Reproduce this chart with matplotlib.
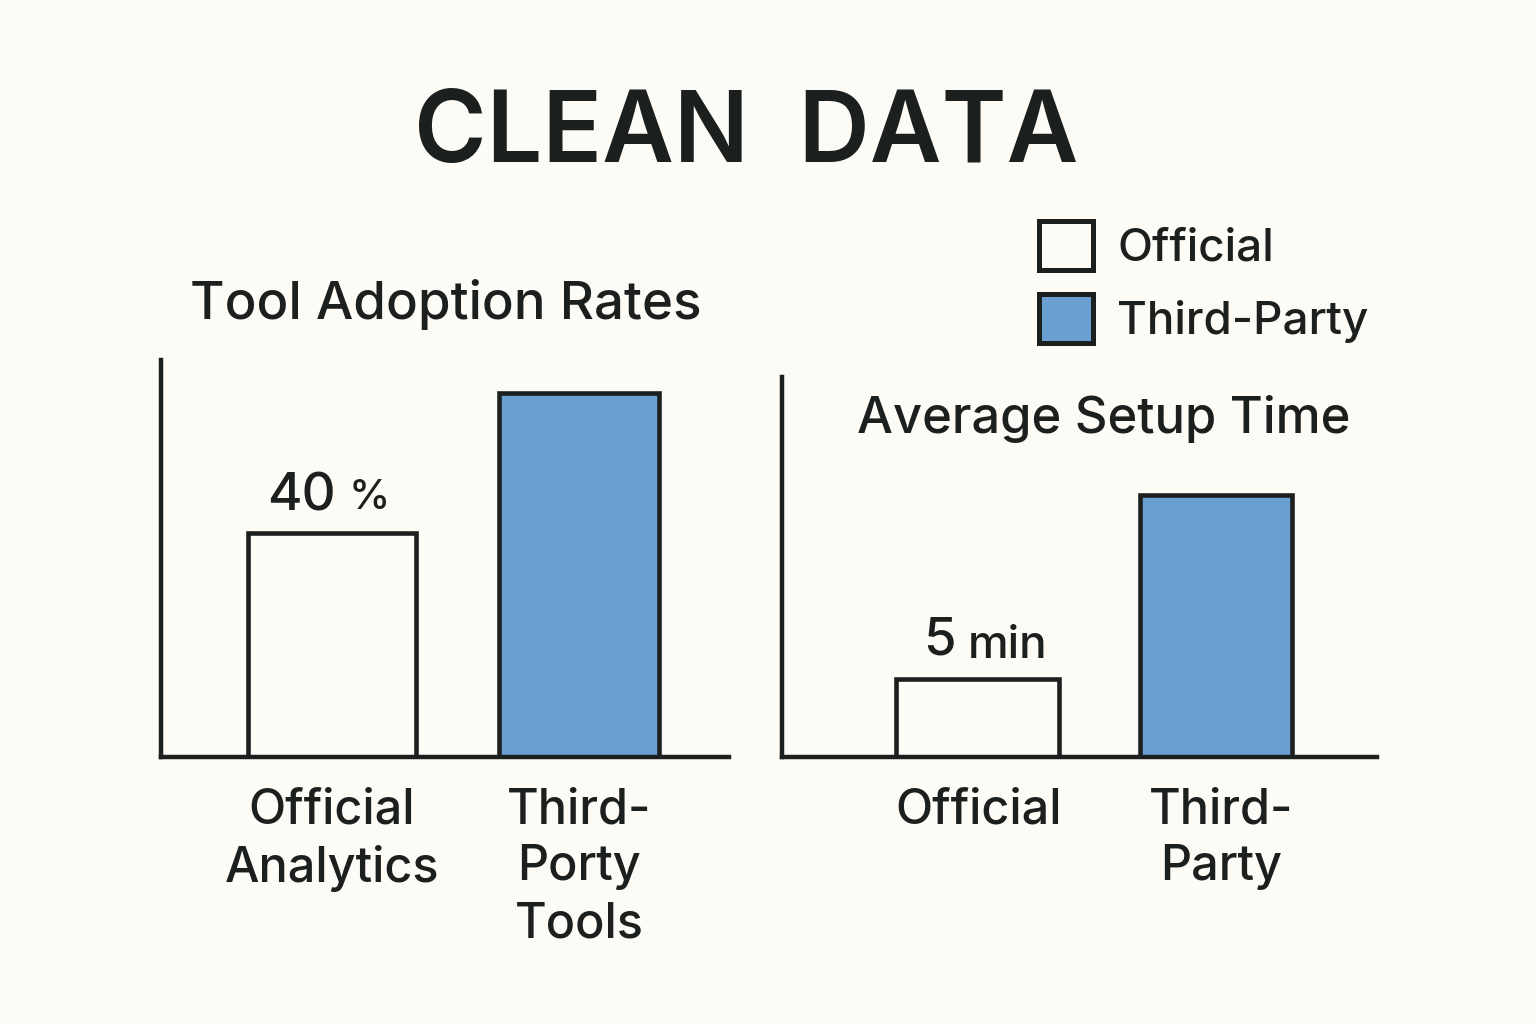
import matplotlib
matplotlib.use('Agg')
import matplotlib.pyplot as plt
from matplotlib.patches import Patch

plt.rcParams['font.family'] = ['Inter', 'DejaVu Sans']

BG = '#fdfbf6'
INK = '#1b1f1e'
BLUE = '#6a9fd1'
W, H = 1536, 1024

left_labels = ['Official\nAnalytics', 'Third-\nPorty\nTools']
left_values = [40, 65]
right_labels = ['Official', 'Third-\nParty']
right_values = [5, 16.8]
colors = [BG, BLUE]


def make_axes(x0, x1, ytop, ybase):
    ax = fig.add_axes([x0 / W, 1 - ybase / H, (x1 - x0) / W, (ybase - ytop) / H])
    ax.set_facecolor('none')
    for s in ['top', 'right']:
        ax.spines[s].set_visible(False)
    for s in ['left', 'bottom']:
        ax.spines[s].set_linewidth(3.2)
        ax.spines[s].set_color(INK)
    ax.set_yticks([])
    ax.tick_params(axis='x', length=0, pad=22, labelsize=35, colors=INK)
    return ax


fig = plt.figure(figsize=(15.36, 10.24), dpi=100, facecolor=BG)

# left panel
ax1 = make_axes(161, 729, 360, 757)
ax1.set_ylim(0, 397 / (224 / 40))
ax1.set_xlim(161, 729)
ax1.bar([332, 579], left_values, width=[168, 160], color=colors, edgecolor=INK, linewidth=3.3)
ax1.set_xticks([332, 579])
ax1.set_xticklabels(left_labels, linespacing=1.3, fontweight='medium')

# right panel
ax2 = make_axes(782, 1377, 377, 757)
ax2.set_ylim(0, 380 / (78 / 5))
ax2.set_xlim(782, 1377)
ax2.bar([977, 1216], right_values, width=[163, 152], color=colors, edgecolor=INK, linewidth=3.3)
ax2.set_xticks([979, 1221])
ax2.set_xticklabels(right_labels, linespacing=1.3, fontweight='medium')

fig.text(746 / W, 1 - 136 / H, 'CLEAN  DATA', fontsize=71, ha='center', va='center', color=INK, fontweight='semibold')
fig.text(446 / W, 1 - 305 / H, 'Tool Adoption Rates', fontsize=38, ha='center', va='center', color=INK, fontweight='medium')
fig.text(1104 / W, 1 - 419 / H, 'Average Setup Time', fontsize=36.5, ha='center', va='center', color=INK, fontweight='medium')

fig.text(336 / W, 1 - 497 / H, '40', fontsize=38, ha='right', va='center', color=INK, fontweight='medium')
fig.text(349 / W, 1 - 498 / H, '%', fontsize=30, ha='left', va='center', color=INK, fontweight='medium')
fig.text(956 / W, 1 - 641 / H, '5', fontsize=38, ha='right', va='center', color=INK, fontweight='medium')
fig.text(968 / W, 1 - 646 / H, 'min', fontsize=33, ha='left', va='center', color=INK, fontweight='medium')

fig.legend(handles=[Patch(facecolor=BG, edgecolor=INK, linewidth=3.6, label='Official'),
                    Patch(facecolor=BLUE, edgecolor=INK, linewidth=3.6, label='Third-Party')],
           loc='upper left', bbox_to_anchor=(998 / W, 1 - 180 / H), frameon=False,
           handlelength=1.18, handleheight=1.25, handletextpad=0.52, labelspacing=0.53, labelcolor=INK,
           prop={'size': 33, 'weight': 'medium'})

fig.savefig('out.png', dpi=100, facecolor=BG)
